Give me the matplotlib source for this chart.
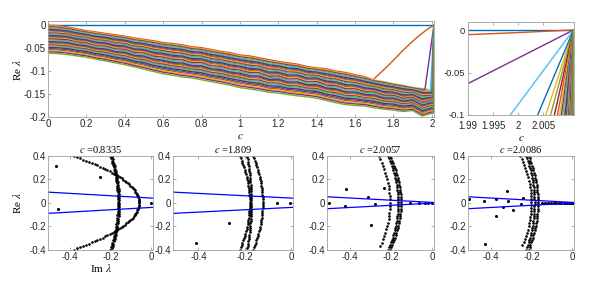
import matplotlib
matplotlib.use('Agg')
import matplotlib.pyplot as plt
import numpy as np

plt.rcParams['font.family'] = ['Liberation Sans', 'DejaVu Sans']
plt.rcParams['mathtext.fontset'] = 'stix'
plt.rcParams['axes.unicode_minus'] = False

# ---- top panels: Re(lambda) against c ----
c_grid = [0.0, 0.05, 0.1, 0.15, 0.2, 0.25, 0.3, 0.35, 0.4, 0.45, 0.5, 0.55, 0.6, 0.65,
          0.7, 0.75, 0.8, 0.85, 0.9, 0.95, 1.0, 1.05, 1.1, 1.15, 1.2, 1.25, 1.3, 1.35,
          1.4, 1.45, 1.5, 1.55, 1.6, 1.65, 1.7, 1.75, 1.8, 1.85, 1.9, 1.95, 2.0]
top_env = [0.0, -0.001, -0.004, -0.008, -0.012, -0.015, -0.018, -0.021, -0.024, -0.028,
           -0.031, -0.034, -0.038, -0.040, -0.043, -0.047, -0.049, -0.053, -0.057, -0.060,
           -0.065, -0.067, -0.071, -0.075, -0.079, -0.082, -0.085, -0.090, -0.093, -0.095,
           -0.100, -0.103, -0.108, -0.112, -0.118, -0.121, -0.126, -0.129, -0.134, -0.136,
           -0.140]
mid_env = [-0.031, -0.032, -0.033, -0.038, -0.040, -0.046, -0.047, -0.053, -0.054, -0.061,
           -0.062, -0.069, -0.071, -0.076, -0.077, -0.083, -0.083, -0.090, -0.091, -0.097,
           -0.099, -0.105, -0.105, -0.113, -0.112, -0.119, -0.118, -0.125, -0.124, -0.132,
           -0.133, -0.140, -0.140, -0.146, -0.147, -0.154, -0.154, -0.161, -0.158, -0.170,
           -0.164]
bot_env = [-0.061, -0.062, -0.064, -0.067, -0.070, -0.074, -0.078, -0.082, -0.086, -0.091,
           -0.096, -0.101, -0.106, -0.109, -0.113, -0.115, -0.119, -0.123, -0.127, -0.131,
           -0.136, -0.139, -0.142, -0.146, -0.148, -0.151, -0.154, -0.156, -0.159, -0.164,
           -0.169, -0.173, -0.175, -0.176, -0.180, -0.183, -0.185, -0.188, -0.186, -0.198,
           -0.192]
# position of each curve inside the band (0 = top edge, 1 = bottom edge)
band_pos = [0.0, 0.03, 0.06, 0.09, 0.12, 0.15, 0.18, 0.21, 0.24, 0.27, 0.30, 0.33, 0.36,
            0.39, 0.42, 0.45, 0.48, 0.52, 0.55, 0.58, 0.61, 0.64, 0.67, 0.70, 0.73, 0.76,
            0.79, 0.83, 0.87, 0.91, 0.95, 1.0]
# c where each curve leaves the band and heads to zero
release_c = [0, 2.0032, 0, 2.0044, 0, 2.0054, 2.0004, 2.0062, 2.0068, 2.0073, 2.0077,
             2.0081, 2.0084, 2.0087, 2.0090, 2.0092, 2.0094, 2.0096, 2.0098, 2.0099,
             2.0100, 2.0101, 2.0102, 2.0103, 2.0104, 2.0105, 2.0106, 2.0107, 2.0107,
             2.0108, 2.0108, 2.0109]
c_end = 2.011
orange_c = [1.694, 1.73, 1.77, 1.81, 1.85, 1.89, 1.925, 1.955, 1.98, 2.0, 2.011]
orange_y = [-0.119, -0.105, -0.089, -0.072, -0.055, -0.039, -0.026, -0.016, -0.008, -0.003, 0.0]
purple_tail = (1.964, -0.141)
cyan_tail = (1.9905, -0.163)

# ---- bottom panels: spectra ----
titles = ['0.8335', '1.809', '2.0057', '2.0086']
# arcs: (x at y=0, x at |y|=0.4, number of dots, y from, y to)
arcs = [
    [(-0.06, -0.384, 80, -0.4, 0.4), (-0.165, -0.202, 42, -0.4, 0.4),
     (-0.159, -0.196, 41, -0.39, 0.39)],
    [(-0.179, -0.222, 42, -0.4, 0.4), (-0.172, -0.19, 41, -0.39, 0.39),
     (-0.123, -0.165, 42, -0.4, 0.4)],
    [(-0.205, -0.26, 28, -0.37, 0.4), (-0.165, -0.215, 40, -0.4, 0.4),
     (-0.152, -0.205, 40, -0.4, 0.4)],
    [(-0.2, -0.255, 30, -0.36, 0.4), (-0.185, -0.225, 40, -0.4, 0.4),
     (-0.168, -0.214, 40, -0.4, 0.4)],
]
iso_x = [
    [-0.470, -0.254, -0.462, 0.0],
    [-0.412, -0.269, -0.061, -0.003],
    [-0.501, -0.417, -0.422, -0.312, -0.278, -0.299, -0.236,
     -0.11, -0.066, -0.037, -0.022, -0.003],
    [-0.506, -0.433, -0.374, -0.374, -0.321, -0.313, -0.338, -0.288, -0.252, -0.239, -0.427,
     -0.148, -0.135, -0.12, -0.106, -0.092, -0.079, -0.066, -0.054, -0.043, -0.033,
     -0.024, -0.016, -0.009, -0.003, 0.0],
]
iso_y = [
    [0.317, 0.218, -0.054, 0.0],
    [-0.343, -0.177, 0.0, 0.0],
    [-0.005, 0.115, -0.028, 0.046, -0.014, -0.194, 0.123,
     0.0, 0.0, 0.0, 0.0, 0.0],
    [0.032, 0.015, 0.029, -0.114, 0.098, 0.017, -0.04, -0.066, -0.014, 0.038, -0.354,
     0.0, 0.0, 0.0, 0.0, 0.0, 0.0, 0.0, 0.0, 0.0, 0.0, 0.0, 0.0, 0.0, 0.0, 0.0],
]
# blue lines y = +-(a + b x)
blue_a = [0.04, 0.04, 0.003, 0.003]
blue_b = [-0.1, -0.1, -0.094, -0.094]

colors = ['#0072BD', '#D95319', '#EDB120', '#7E2F8E', '#77AC30', '#4DBEEE', '#A2142F']

W, H = 598, 283
fig = plt.figure(figsize=(W / 100, H / 100), dpi=100)


def px_axes(l, r, t, b):
    return fig.add_axes([l / W, 1 - b / H, (r - l) / W, (b - t) / H])


def style(ax):
    ax.tick_params(direction='in', length=2.5, width=0.5, top=True, right=True,
                   labelsize=7, color='#8c8c8c', labelcolor='#262626', pad=1.5)
    for s in ax.spines.values():
        s.set_color('#a0a0a0')
        s.set_linewidth(0.6)
    ax.xaxis.set_major_formatter(plt.FuncFormatter(lambda v, p: f'{v:g}'))
    ax.yaxis.set_major_formatter(plt.FuncFormatter(lambda v, p: f'{v:g}'))


def curves():
    cg = np.array(c_grid)
    t, m, b = np.array(top_env), np.array(mid_env), np.array(bot_env)
    out = [(np.array([0.0, c_end]), np.array([0.0, 0.0]))]
    for i, f in enumerate(band_pos, start=1):
        if f <= 0.5:
            y = t + (m - t) * f / 0.5
        else:
            y = m + (b - m) * (f - 0.5) / 0.5
        if i == 1:
            keep = cg < 1.69
            xs = np.concatenate([cg[keep], orange_c])
            ys = np.concatenate([y[keep], orange_y])
        elif i in (3, 5):
            tail = purple_tail if i == 3 else cyan_tail
            keep = cg < 1.96
            xs = np.concatenate([cg[keep], [tail[0], c_end]])
            ys = np.concatenate([y[keep], [tail[1], 0.0]])
        else:
            xs = np.concatenate([cg, [release_c[i - 1], c_end]])
            ys = np.concatenate([y, [y[-1], 0.0]])
        out.append((xs, ys))
    return out


lines = curves()
serif = 'Liberation Serif'

ax_top = px_axes(48, 434, 21, 117)
ax_zoom = px_axes(468, 574, 21.5, 115)
for ax in (ax_top, ax_zoom):
    for k, (xs, ys) in enumerate(lines):
        ax.plot(xs, ys, color=colors[k % 7], lw=1.0)
    style(ax)

ax_top.set_xlim(0, 2.0115)
ax_top.set_ylim(-0.2, 0.009)
ax_top.set_xticks([0, 0.2, 0.4, 0.6, 0.8, 1.0, 1.2, 1.4, 1.6, 1.8, 2.0])
ax_top.set_yticks([-0.2, -0.15, -0.1, -0.05, 0])

ax_zoom.set_xlim(1.99, 2.0111)
ax_zoom.set_ylim(-0.1, 0.01)
ax_zoom.set_xticks([1.99, 1.995, 2.0, 2.005])
ax_zoom.set_yticks([-0.1, -0.05, 0])
ax_zoom.tick_params(axis='y', labelsize=6.8, pad=2)
ax_zoom.tick_params(axis='x', pad=4.5)

fig.text(17 / W, 1 - 70 / H, r'Re $\lambda$', rotation=90, ha='center', va='center',
         fontsize=8, family=serif)
fig.text(240 / W, 1 - 136 / H, r'$c$', ha='center', va='center', fontsize=8)
fig.text(521 / W, 1 - 138 / H, r'$c$', ha='center', va='center', fontsize=8)

bottom_px = [(48, 153), (173, 293), (327, 434), (468, 574)]
for p, (l, r) in enumerate(bottom_px):
    ax = px_axes(l, r, 156, 249.5)
    for (x0, xt, n, ylo, yhi) in arcs[p]:
        yy = np.linspace(ylo, yhi, n)
        xx = x0 + (xt - x0) * (yy / 0.4) ** 2
        ax.plot(xx, yy, 'o', color='k', ms=1.9, mew=0)
    ax.plot(iso_x[p], iso_y[p], 'o', color='k', ms=2.2, mew=0)
    xl = np.array([-0.52, 0.02])
    ax.plot(xl, blue_a[p] + blue_b[p] * xl, color='blue', lw=0.9)
    ax.plot(xl, -(blue_a[p] + blue_b[p] * xl), color='blue', lw=0.9)
    ax.set_xlim(-0.51, 0.008)
    ax.set_ylim(-0.4, 0.4)
    ax.set_xticks([-0.4, -0.2, 0])
    ax.set_yticks([-0.4, -0.2, 0, 0.2, 0.4])
    style(ax)
    ax.set_title(r'$c$ =' + titles[p], fontsize=7.5, family=serif, pad=2)

fig.text(17 / W, 1 - 203 / H, r'Re $\lambda$', rotation=90, ha='center', va='center',
         fontsize=8, family=serif)
fig.text(101 / W, 1 - 268 / H, r'Im $\lambda$', ha='center', va='center',
         fontsize=8, family=serif)

fig.savefig('out.png', dpi=100)
